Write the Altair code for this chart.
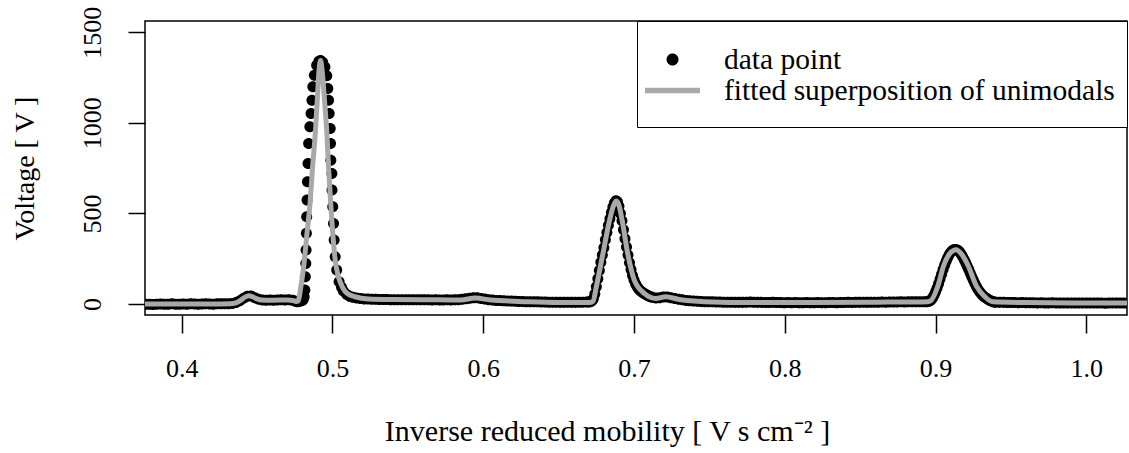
import altair as alt
import pandas as pd

LBL_PT = "data point"
LBL_FIT = "fitted superposition of unimodals"

X_TICKS = [0.4, 0.5, 0.6, 0.7, 0.8, 0.9, 1.0]
Y_TICKS = [0, 500, 1000, 1500]

# ---- measured data points (sampling grid start, step, values) ----
SEG_A_START, SEG_A_STEP = 0.3760, 0.0025
SEG_A_V = [-2, -1, -3, -1, 0, -2, -1, 1, -1, -2, 0, -1, 1, 0, -1, 0, 1, 0, -1, 1,
           2, 1, 2, 3, 8, 18, 32, 43, 44, 34, 26, 22, 21, 22, 21, 22, 23, 22, 23, 21]

# main peak: densely sampled, read dot by dot
PEAK1_X = [0.4750, 0.4760, 0.4770, 0.4780, 0.4790, 0.4800, 0.4806, 0.4812, 0.4817, 0.4820,
           0.4823, 0.4825, 0.4827, 0.4829, 0.4831, 0.4834, 0.4838, 0.4842, 0.4850, 0.4858,
           0.4864, 0.4870, 0.4880, 0.4895, 0.4910, 0.4921, 0.4935, 0.4950, 0.4962, 0.4969,
           0.4974, 0.4978, 0.4985, 0.4987, 0.4989, 0.4996, 0.4997, 0.5002, 0.5007, 0.5011,
           0.5018, 0.5028, 0.5044, 0.5060, 0.5072, 0.5095, 0.5116, 0.5135]
PEAK1_V = [16, 14, 13, 15, 17, 20, 25, 40, 77, 151,
           224, 298, 390, 482, 574, 675, 776, 886, 978, 1052,
           1125, 1199, 1263, 1318, 1340, 1345, 1335, 1309, 1260, 1190,
           1125, 1052, 969, 886, 794, 721, 629, 537, 445, 353,
           261, 188, 123, 92, 72, 52, 42, 37]

SEG_C_START, SEG_C_STEP = 0.5160, 0.0025
SEG_C_V = [33, 30, 28, 27, 26, 26, 25, 25, 25, 24, 24, 24, 24, 23, 23, 24, 23, 23, 24, 23,
           22, 23, 22, 22, 23, 22, 23, 24, 26, 29, 32, 34, 34, 31, 27, 24, 22, 20, 19, 18,
           17, 16, 15, 14, 14, 13, 13, 12, 12, 11, 11, 10, 10, 10, 9, 9, 10, 9, 9, 10,
           10, 11]

SEG_D_START, SEG_D_STEP = 0.6700, 0.0010
SEG_D_V = [11, 12, 16, 28, 55, 95, 140, 185, 230, 270, 310, 355, 395, 435, 470, 505, 535, 558,
           570, 565, 540, 500, 460, 410, 360, 315, 270, 228, 190, 158, 132, 112, 96, 84, 74,
           67, 62, 57, 52, 47, 43, 40, 37]

SEG_E_START, SEG_E_STEP = 0.7145, 0.0025
SEG_E_V = [33, 35, 38, 39, 35, 30, 26, 23, 20, 18, 16, 15, 14, 13, 12, 12, 11, 11, 10, 10,
           10, 9, 9, 9, 10, 11, 10, 9, 9, 8, 8, 9, 8, 8, 7, 8, 7, 8, 7, 7,
           8, 7, 7, 8, 7, 7, 8, 8, 7, 8, 8, 9, 8, 9, 9, 10, 9, 10, 10, 10,
           11, 10, 11, 11, 11, 12, 11, 12, 12, 13, 13, 13]

SEG_F_START, SEG_F_STEP = 0.8940, 0.0010
SEG_F_V = [13, 14, 16, 22, 33, 48, 67, 88, 112, 138, 164, 190, 214, 236, 256, 272, 285, 294,
           299, 301, 300, 295, 287, 275, 261, 245, 228, 209, 190, 170, 151, 132, 114, 98, 83,
           70, 59, 50, 42, 36, 30, 25, 20, 16, 13, 11, 10]

SEG_G_START, SEG_G_STEP = 0.9425, 0.0025
SEG_G_V = [9, 9, 8, 8, 8, 7, 8, 7, 7, 7, 6, 7, 6, 6, 7, 6, 6, 5, 6, 6,
           5, 6, 5, 5, 6, 5, 5, 5, 4, 5, 5, 6, 5, 5, 5]

# ---- fitted superposition of unimodals ----
FIT_X = [0.3757, 0.4000, 0.4200, 0.4320, 0.4360, 0.4390, 0.4420, 0.4447, 0.4470, 0.4500,
         0.4530, 0.4600, 0.4700, 0.4745, 0.4762, 0.4772, 0.4780, 0.4787, 0.4809, 0.4831,
         0.4853, 0.4868, 0.4886, 0.4899, 0.4912, 0.4921, 0.4930, 0.4947, 0.4963, 0.4974,
         0.4987, 0.5002, 0.5018, 0.5035, 0.5051, 0.5083, 0.5115, 0.5149, 0.5237, 0.5400,
         0.5600, 0.5850, 0.5947, 0.6050, 0.6290, 0.6500, 0.6710, 0.6728, 0.6750, 0.6794,
         0.6838, 0.6865, 0.6882, 0.6900, 0.6921, 0.6958, 0.7002, 0.7068, 0.7145, 0.7210,
         0.7300, 0.7470, 0.7800, 0.8200, 0.8600, 0.8950, 0.8965, 0.9015, 0.9053, 0.9100,
         0.9136, 0.9170, 0.9217, 0.9272, 0.9327, 0.9380, 0.9600, 1.0000, 1.0277]
FIT_V = [0, 0, 0, 1, 6, 20, 38, 45, 40, 28,
         22, 21, 22, 18, 14, 16, 40, 77, 206, 390,
         574, 757, 941, 1125, 1300, 1345, 1300, 1125, 941, 757,
         574, 390, 243, 165, 122, 70, 50, 40, 28, 25,
         24, 22, 33, 22, 13, 9, 9, 15, 95, 279,
         463, 545, 568, 545, 463, 279, 132, 59, 31, 40,
         25, 13, 8, 8, 10, 13, 16, 98, 210, 284,
         300, 278, 210, 97, 40, 12, 8, 5, 5]

X_DOMAIN = [0.37566, 1.02697]
Y_DOMAIN = [-60.7, 1562.4]

# ---- build tables ----
pts_x, pts_v = [], []
for start, step, vals in [(SEG_A_START, SEG_A_STEP, SEG_A_V), (SEG_C_START, SEG_C_STEP, SEG_C_V),
                          (SEG_D_START, SEG_D_STEP, SEG_D_V), (SEG_E_START, SEG_E_STEP, SEG_E_V),
                          (SEG_F_START, SEG_F_STEP, SEG_F_V), (SEG_G_START, SEG_G_STEP, SEG_G_V)]:
    for i, v in enumerate(vals):
        pts_x.append(round(start + i * step, 5))
        pts_v.append(v)
pts_x += PEAK1_X
pts_v += PEAK1_V
df_pts = pd.DataFrame({"x": pts_x, "v": pts_v, "series": LBL_PT})
df_fit = pd.DataFrame({"x": FIT_X, "v": FIT_V})

FONT = "Liberation Serif"
# symbol outlines (unit coordinates); the stray move-to point only pads the legend box
DOT_PATH = "M-0.364,0A0.364,0.364 0 1,0 0.364,0A0.364,0.364 0 1,0 -0.364,0Z"
BAR_PATH = "M-1.667,-0.167H1.667V0.167H-1.667ZM0,1.44"

x_enc = alt.X("x:Q", scale=alt.Scale(domain=X_DOMAIN, nice=False, zero=False),
              axis=alt.Axis(values=X_TICKS, format=".1f", title="Inverse reduced mobility [ V s cm\u207b\u00b2 ]",
                            labelFontSize=26, labelPadding=22, tickSize=18,
                            titleFontSize=30, titleX=462, titleY=125, titleAlign="center",
                            titleBaseline="alphabetic", titleAnchor="start"))
y_enc = alt.Y("v:Q", scale=alt.Scale(domain=Y_DOMAIN, nice=False, zero=False),
              axis=alt.Axis(values=Y_TICKS, format="d", title="Voltage [ V ]",
                            labelFontSize=26, labelAngle=270, labelAlign="center",
                            labelBaseline="alphabetic", labelPadding=28, tickSize=17,
                            titleFontSize=28, titleAngle=270, titleX=-112, titleY=147,
                            titleAlign="center", titleBaseline="alphabetic", titleAnchor="start"))

legend = alt.Legend(title=" ", titleFontSize=8, titlePadding=2, orient="top-right", offset=0,
                    padding=12, strokeColor="black", fillColor="white", labelFont=FONT,
                    labelFontSize=29.5, labelColor="black", symbolSize=1089, symbolStrokeWidth=0,
                    symbolOffset=7, labelOffset=35, rowPadding=0, labelLimit=0, symbolOpacity=1)

points = alt.Chart(df_pts).mark_point(filled=True, opacity=1, size=914, clip=True).encode(
    x=x_enc, y=y_enc,
    color=alt.Color("series:N", scale=alt.Scale(domain=[LBL_PT, LBL_FIT], range=["black", "#a9a9a9"]),
                    legend=legend),
    shape=alt.Shape("series:N", scale=alt.Scale(domain=[LBL_PT, LBL_FIT], range=[DOT_PATH, BAR_PATH]),
                    legend=legend),
)

fit = alt.Chart(df_fit).mark_line(color="#a9a9a9", strokeWidth=5, strokeCap="round",
                                  strokeJoin="round", interpolate="monotone", clip=True).encode(
    x=alt.X("x:Q"), y=alt.Y("v:Q"))

chart = alt.layer(points, fit).properties(
    width=982, height=294,
    autosize=alt.AutoSizeParams(type="none"),
    padding={"left": 145, "top": 21, "right": 2, "bottom": 138},
    background="white",
).configure_view(stroke="black", strokeWidth=1.5).configure_axis(
    grid=False, domain=False, tickColor="black", tickWidth=1.5, labelColor="black",
    labelFont=FONT, titleFont=FONT, titleFontWeight="normal", titleColor="black",
)

chart.save("out.html", embed_options={"renderer": "svg", "actions": False})
